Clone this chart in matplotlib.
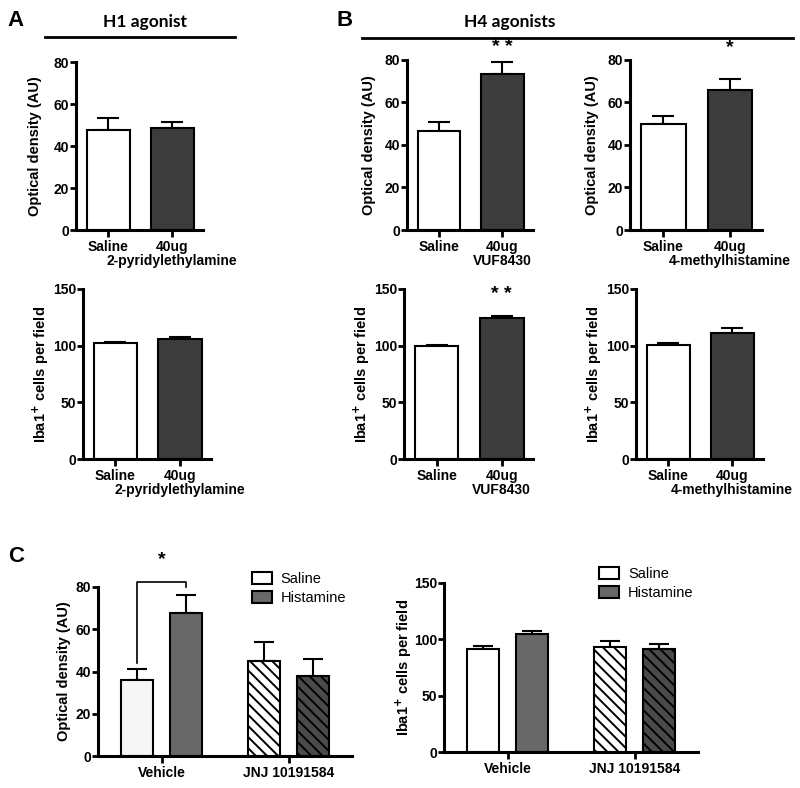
import matplotlib
matplotlib.use("Agg")
import matplotlib.pyplot as plt
from matplotlib.patches import Patch
from matplotlib.lines import Line2D

plt.rcParams['font.family'] = ['Liberation Sans', 'DejaVu Sans']
plt.rcParams['hatch.linewidth'] = 1.4
plt.rcParams['mathtext.default'] = 'bf'

# --- datos ---
grupos_ab = ["Saline", "40ug"]
h1_od = [47.5, 48.5]
h1_od_err = [6.0, 3.0]
h1_iba = [102.5, 106.0]
h1_iba_err = [1.0, 2.0]

vuf_od = [46.5, 73.5]
vuf_od_err = [4.5, 5.5]
vuf_iba = [100.0, 124.0]
vuf_iba_err = [1.0, 2.0]

mh_od = [50.0, 66.0]
mh_od_err = [3.5, 5.0]
mh_iba = [101.0, 111.0]
mh_iba_err = [1.5, 5.0]

grupos_c = ["Vehicle", "JNJ 10191584"]
c_od_saline = [36.0, 45.0]
c_od_saline_err = [5.0, 9.0]
c_od_hist = [67.5, 38.0]
c_od_hist_err = [8.5, 8.0]
c_iba_saline = [91.0, 93.5]
c_iba_saline_err = [3.0, 5.0]
c_iba_hist = [105.0, 91.5]
c_iba_hist_err = [2.0, 4.0]

W, H = 800, 788
OSCURO = "#3c3c3c"
GRIS = "#686868"


def ejes_px(fig, izq, arriba, der, abajo):
    # posicion de los ejes en pixeles -> fraccion de figura
    return fig.add_axes([izq / W, 1 - abajo / H, (der - izq) / W, (abajo - arriba) / H])


def estilo(ax, ymax, paso, ylabel, pad):
    ax.set_ylim(0, ymax)
    ax.set_yticks(range(0, ymax + 1, paso))
    for s in ['top', 'right']:
        ax.spines[s].set_visible(False)
    for s in ['left', 'bottom']:
        ax.spines[s].set_linewidth(2.2)
    ax.tick_params(axis='y', length=4, width=2, labelsize=10, pad=1)
    ax.tick_params(axis='x', length=5, width=2, labelsize=10, pad=2)
    for t in ax.get_yticklabels() + ax.get_xticklabels():
        t.set_fontweight('bold')
    ax.set_ylabel(ylabel, fontsize=10.5, fontweight='bold', labelpad=pad)


def barras_dos(ax, valores, errores, etiqueta2, ymax, paso, ylabel, pad):
    x = [0, 1]
    ax.bar(x, valores, width=0.67, color=['white', OSCURO], edgecolor='black',
           linewidth=1.5, zorder=2)
    ax.errorbar(x, valores, yerr=[[0, 0], errores], fmt='none', ecolor='black',
                elinewidth=1.5, capsize=8, capthick=1.5, zorder=1)
    ax.set_xlim(-0.5, 1.48)
    ax.set_xticks(x)
    ax.set_xticklabels(grupos_ab)
    # segunda linea de la etiqueta del agonista
    ax.annotate(etiqueta2, xy=(1, 0), xycoords=('data', 'axes fraction'),
                xytext=(0, -17), textcoords='offset points', ha='center', va='top',
                fontsize=10, fontweight='bold', annotation_clip=False)
    estilo(ax, ymax, paso, ylabel, pad)


def barras_c(ax, sal, sal_err, his, his_err, ymax, paso, ylabel, color_sal, pad):
    off, ancho = 0.19, 0.25
    ax.bar([0 - off], [sal[0]], width=ancho, color=color_sal, edgecolor='black', linewidth=1.5, zorder=2)
    ax.bar([0 + off], [his[0]], width=ancho, color=GRIS, edgecolor='black', linewidth=1.5, zorder=2)
    ax.bar([1 - off], [sal[1]], width=ancho, color='white', edgecolor='black', linewidth=1.5,
           hatch='\\\\\\', zorder=2)
    ax.bar([1 + off], [his[1]], width=ancho, color='#4a4a4a', edgecolor='black', linewidth=1.5,
           hatch='\\\\\\', zorder=2)
    xs = [0 - off, 1 - off, 0 + off, 1 + off]
    ys = [sal[0], sal[1], his[0], his[1]]
    es = [sal_err[0], sal_err[1], his_err[0], his_err[1]]
    ax.errorbar(xs, ys, yerr=[[0] * 4, es], fmt='none', ecolor='black',
                elinewidth=1.5, capsize=7, capthick=1.5, zorder=1)
    ax.set_xlim(-0.5, 1.5)
    ax.set_xticks([0, 1])
    ax.set_xticklabels(grupos_c)
    estilo(ax, ymax, paso, ylabel, pad)


def leyenda(ax, x0, y0):
    ax.legend(handles=[Patch(facecolor='white', edgecolor='black', lw=1.5, label='Saline'),
                       Patch(facecolor=GRIS, edgecolor='black', lw=1.5, label='Histamine')],
              loc='upper left', bbox_to_anchor=(x0, y0), frameon=False, fontsize=10.5,
              handlelength=1.4, handleheight=0.85, handletextpad=0.6, labelspacing=0.35,
              borderpad=0, borderaxespad=0)


fig = plt.figure(figsize=(8, 7.88), dpi=100)

od_label = "Optical density (AU)"
iba_label = "Iba1$^{+}$ cells per field"

# --- Panel A ---
ax = ejes_px(fig, 76, 62, 203, 230)
barras_dos(ax, h1_od, h1_od_err, "2-pyridylethylamine", 80, 20, od_label, 8)
ax = ejes_px(fig, 83, 289, 211, 459)
barras_dos(ax, h1_iba, h1_iba_err, "2-pyridylethylamine", 150, 50, iba_label, 1)

# --- Panel B ---
ax = ejes_px(fig, 407, 60, 533, 230)
barras_dos(ax, vuf_od, vuf_od_err, "VUF8430", 80, 20, od_label, 6)
ax.text(1, 86, "* *", ha='center', va='center', fontsize=14, fontweight='bold', clip_on=False)
ax = ejes_px(fig, 404, 289, 533, 459)
barras_dos(ax, vuf_iba, vuf_iba_err, "VUF8430", 150, 50, iba_label, 1)
ax.text(1, 145, "* *", ha='center', va='center', fontsize=14, fontweight='bold', clip_on=False)

ax = ejes_px(fig, 630, 60, 762, 230)
barras_dos(ax, mh_od, mh_od_err, "4-methylhistamine", 80, 20, od_label, 6)
ax.text(1, 86, "*", ha='center', va='center', fontsize=14, fontweight='bold', clip_on=False)
ax = ejes_px(fig, 636, 289, 763, 459)
barras_dos(ax, mh_iba, mh_iba_err, "4-methylhistamine", 150, 50, iba_label, 1)

# --- Panel C ---
ax = ejes_px(fig, 98, 587, 352, 756)
barras_c(ax, c_od_saline, c_od_saline_err, c_od_hist, c_od_hist_err, 80, 20, od_label,
         '#f6f6f6', 3)
# corchete de significancia
ax.plot([-0.19, -0.19, 0.19, 0.19], [44, 82.5, 82.5, 80], color='black', lw=1.2, clip_on=False)
ax.text(0, 93, "*", ha='center', va='center', fontsize=14, fontweight='bold', clip_on=False)
leyenda(ax, 0.605, 1.09)

ax = ejes_px(fig, 444, 583, 698, 752)
barras_c(ax, c_iba_saline, c_iba_saline_err, c_iba_hist, c_iba_hist_err, 150, 50, iba_label,
         'white', 0)
leyenda(ax, 0.61, 1.095)

# --- titulos de grupo y letras ---
fig.text(145 / W, 1 - 22 / H, "H1 agonist", ha='center', va='center', fontsize=12.5,
         fontweight='bold', family=['Lato', 'DejaVu Sans'])
fig.add_artist(Line2D([45 / W, 235 / W], [1 - 37 / H, 1 - 37 / H], color='black', lw=2))
fig.text(510 / W, 1 - 22 / H, "H4 agonists", ha='center', va='center', fontsize=12.5,
         fontweight='bold', family=['Lato', 'DejaVu Sans'])
fig.add_artist(Line2D([362 / W, 793 / W], [1 - 38 / H, 1 - 38 / H], color='black', lw=2))

fig.text(16 / W, 1 - 21 / H, "A", ha='center', va='center', fontsize=16, fontweight='bold')
fig.text(345 / W, 1 - 21 / H, "B", ha='center', va='center', fontsize=16, fontweight='bold')
fig.text(16 / W, 1 - 556 / H, "C", ha='center', va='center', fontsize=16, fontweight='bold')

fig.savefig("out.png", dpi=100)
